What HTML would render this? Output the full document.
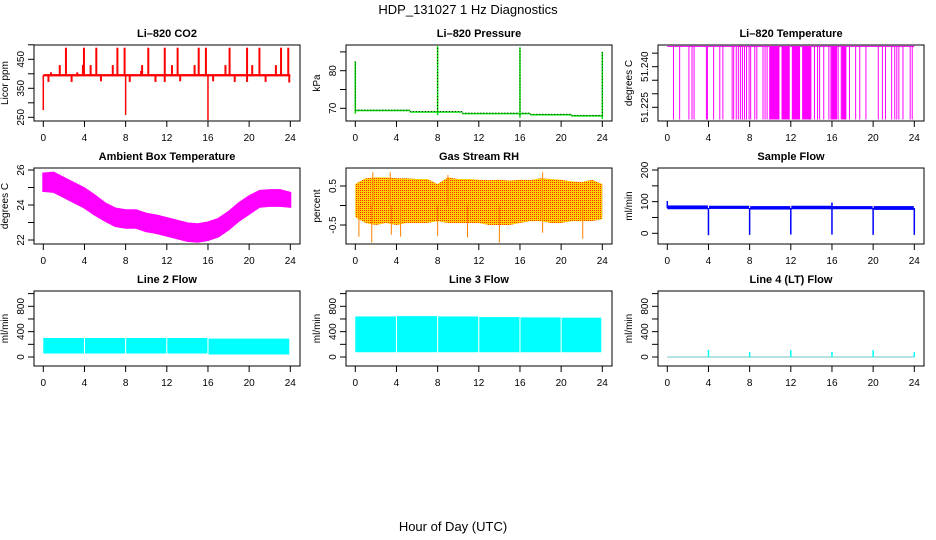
<!DOCTYPE html>
<html><head><meta charset="utf-8"><style>
html,body{margin:0;padding:0;background:#fff}
svg{display:block;font-family:"Liberation Sans",sans-serif}
.t{font-weight:bold;font-size:11px;text-anchor:middle}
.tk{font-size:10px;text-anchor:middle}
</style></head><body>
<svg id="c" width="936" height="540" viewBox="0 0 936 540">
<defs><pattern id="rhp" width="2" height="2" patternUnits="userSpaceOnUse"><rect width="2" height="2" fill="#ffd000"/><rect width="1" height="1" fill="#ff3000"/></pattern></defs>
<text x="468" y="14" font-size="13" text-anchor="middle">HDP_131027  1 Hz Diagnostics</text>
<text x="453" y="531" font-size="13" text-anchor="middle">Hour of Day (UTC)</text>
</svg>
<script>
// ---- data ----
var hourTicks=[0,4,8,12,16,20,24];
var co2Base=395;
var co2UpHours=[2.2,3.95,5.15,7.2,7.9,10.2,11.8,13.05,15.1,15.8,18.1,19.8,21.0,23.1,23.8];
var co2UpVals=[490,490,490,490,490,490,490,490,490,490,490,490,490,490,490];
var co2MidHours=[1.6,3.85,4.6,6.75,9.6,12.5,14.7,17.7,20.3,22.6,0.75,3.3,9.5];
var co2MidVals=[430,430,430,430,430,430,430,430,430,430,405,405,410];
var co2DownHours=[0.5,2.75,5.6,8.4,10.9,11.8,13.3,16.5,18.6,19.8,21.6,23.9];
var co2DownVals=[372,372,374,372,372,372,374,374,372,372,372,370];
var co2BigHours=[0,8,16];
var co2BigVals=[275,258,240];
var presSegStart=[0,5.3,10.4,17,21];
var presSegEnd=[5.3,10.4,17,21,24];
var presSegVals=[69.4,69.0,68.6,68.3,68.0];
var presSpikeHours=[0,8,16,24];
var presSpikeVals=[82.5,86.5,86.2,85];
var tempBarHours=[0.6,1.2,2.1,2.4,2.6,3.8,3.9,4.5,5.1,5.4,6.3,6.45,6.7,6.9,7.1,7.3,7.5,7.7,7.95,8.1,8.5,8.7,9.3,9.5,9.7,14.3,14.6,14.8,15.2,15.7,15.9,16.2,16.4,16.6,16.9,17.7,18.3,18.7,19.3,20.5,20.9,21.2,21.8,22.1,22.3,22.5,22.9,23.6,23.8];
var tempDenseStart=[9.9,11.1,12.1,13.1,15.95,16.95];
var tempDenseEnd=[10.9,11.9,12.9,14.0,16.5,17.4];
var tempTop=51.2475, tempBottom=51.2205;
var ambHours=[0,1,2,3,4,5,6,7,8,9,10,11,12,13,14,15,16,17,18,19,20,21,22,23,24];
var ambVals=[25.3,25.3,25.0,24.7,24.4,24.0,23.6,23.3,23.2,23.2,23.0,22.9,22.75,22.6,22.45,22.4,22.5,22.7,23.1,23.6,24.0,24.35,24.4,24.4,24.3];
var ambHalf=[0.5,0.55,0.55,0.55,0.55,0.55,0.5,0.5,0.5,0.5,0.5,0.5,0.5,0.5,0.5,0.5,0.5,0.5,0.5,0.5,0.5,0.45,0.45,0.45,0.4];
var rhHours=[0,1,2,3,4,5,6,7,8,9,10,11,12,13,14,15,16,17,18,19,20,21,22,23,24];
var rhTop=[0.55,0.7,0.72,0.72,0.7,0.7,0.68,0.68,0.55,0.72,0.68,0.68,0.66,0.65,0.66,0.64,0.66,0.65,0.7,0.68,0.66,0.62,0.6,0.66,0.55];
var rhBot=[-0.3,-0.45,-0.5,-0.45,-0.5,-0.45,-0.45,-0.45,-0.4,-0.45,-0.45,-0.45,-0.45,-0.5,-0.5,-0.5,-0.45,-0.4,-0.4,-0.45,-0.45,-0.4,-0.4,-0.4,-0.35];
var rhSpikeHours=[0.35,1.6,3.5,4.4,8.0,10.9,14.0,18.2,22.1,1.7,3.4,18.2,9.0];
var rhSpikeVals=[-0.8,-0.95,-0.75,-0.8,-0.78,-0.82,-0.95,-0.7,-0.85,0.85,0.85,0.85,0.78];
var flowSegStart=[0,4.05,8.05,12.05,16.05,20.05];
var flowSegEnd=[3.95,7.95,11.95,15.95,19.95,23.95];
var flowLow=[76,77,75,76,76,74];
var flowHigh=[88,87,86,87,86,86];
var flowDipHours=[4,8,12,16,20,24];
var flowDipVals=[-6,-5,-4,-4,-5,-5];
var line2Start=[0,4.05,8.05,12.05,16.05];
var line2End=[3.95,7.95,11.95,15.95,23.9];
var line2Low=[55,55,55,55,40];
var line2High=[300,300,300,300,290];
var line3Start=[0,4.05,8.05,12.05,16.05,20.05];
var line3End=[3.95,7.95,11.95,15.95,19.95,23.9];
var line3Low=[75,75,75,75,75,75];
var line3High=[640,645,640,630,625,620];
var line4SpikeHours=[4,8,12,16,20,24];
var line4SpikeVals=[110,80,110,80,110,80];

// ---- layout ----
var NS='http://www.w3.org/2000/svg';
var svg=document.getElementById('c');
var colL=[34,346,658], colR=[300,612,924], colX0=[43.3,355.3,667.3];
var rowT=[45,168,291], rowB=[121,244,366];
function el(tag,attrs,parent){var e=document.createElementNS(NS,tag);for(var k in attrs)e.setAttribute(k,attrs[k]);(parent||svg).appendChild(e);return e;}
function panel(ci,ri,name,title,ylab,yv1,py1,yv2,py2,yticks,ylabels){
  var g=el('g',{});
  
  
  var L=colL[ci],R=colR[ci],T=rowT[ri],B=rowB[ri],x0=colX0[ci],sx=(R-9.7-x0)/24;
  var P={g:g,L:L,R:R,T:T,B:B,x:function(h){return x0+h*sx;},y:function(v){return py1+(v-yv1)*(py2-py1)/(yv2-yv1);}};
  var plot=el('g',{},g);
  
  
  P.p=plot;
  var t=el('text',{x:(L+R)/2,y:T-8,'class':'t'},g);t.textContent=title;
  
  
  var yl=el('text',{transform:'translate('+(L-26)+','+((T+B)/2)+') rotate(-90)','font-size':'10','text-anchor':'middle'},g);yl.textContent=ylab;
  
  
  P.finish=function(){
    var bx=el('rect',{x:L,y:T,width:R-L,height:B-T,fill:'none',stroke:'#000','stroke-width':1},g);
    
    
    var xa=el('g',{},g);
    
    
    hourTicks.forEach(function(h){var xx=P.x(h);el('line',{x1:xx,x2:xx,y1:B,y2:B+6,stroke:'#000'},xa);
      var tx=el('text',{x:xx,y:B+20,'class':'tk'},xa);tx.textContent=h;});
    var ya=el('g',{},g);
    
    
    yticks.forEach(function(v){var yy=P.y(v);el('line',{x1:L-6,x2:L,y1:yy,y2:yy,stroke:'#000'},ya);});
    ylabels.forEach(function(v){var yy=P.y(v);var tx=el('text',{transform:'translate('+(L-10)+','+yy+') rotate(-90)','class':'tk'},ya);tx.textContent=v;});
  };
  return P;
}
function vline(P,h,v1,v2,c,w,nm){var l=el('line',{x1:P.x(h),x2:P.x(h),y1:P.y(v1),y2:P.y(v2),stroke:c,'stroke-width':w||1},P.p);return l;}
function rectH(P,h1,h2,v1,v2,fill,nm){var a=P.y(v1),b=P.y(v2);var r=el('rect',{x:P.x(h1),y:Math.min(a,b),width:P.x(h2)-P.x(h1),height:Math.abs(a-b),fill:fill},P.p);return r;}

// CO2
var P=panel(0,0,'co2','Li\u2013820 CO2','Licor ppm',250,117.3,450,59.3,[250,300,350,400,450,500],[250,350,450]);
rectH(P,0,24,co2Base-4,co2Base+4,'#ff0000','co2-baseline');
co2UpHours.forEach(function(h,i){vline(P,h,co2Base,co2UpVals[i],'#ff0000',2,'co2-spike');});
co2MidHours.forEach(function(h,i){vline(P,h,co2Base,co2MidVals[i],'#ff0000',2,'co2-spike');});
co2DownHours.forEach(function(h,i){vline(P,h,co2Base,co2DownVals[i],'#ff0000',2,'co2-spike');});
co2BigHours.forEach(function(h,i){vline(P,h,co2Base,co2BigVals[i],'#ff0000',1.5,'co2-drop');});
P.finish();

// Pressure
P=panel(1,0,'pressure','Li\u2013820 Pressure','kPa',70,108.3,80,70.7,[70,75,80,85],[70,80]);
presSegStart.forEach(function(s,i){var yy=P.y(presSegVals[i]);var l=el('line',{x1:P.x(s),x2:P.x(presSegEnd[i]),y1:yy,y2:yy,stroke:'#00e000','stroke-width':1.5},P.p);
  var d=el('line',{x1:P.x(s),x2:P.x(presSegEnd[i]),y1:yy-0.5,y2:yy-0.5,stroke:'#000','stroke-width':0.8,'stroke-dasharray':'1 2'},P.p);});
presSpikeHours.forEach(function(h,i){var base=presSegVals[Math.min(Math.floor(h/5.3),4)];vline(P,h,base-0.8,presSpikeVals[i],'#00e000',1.5,'pressure-spike');
  var d=vline(P,h,base,presSpikeVals[i],'#000',0.8,'pressure-spike-dots');d.setAttribute('stroke-dasharray','1 2');});
P.finish();

// LI temperature
P=panel(2,0,'li-temperature','Li\u2013820 Temperature','degrees C',51.225,107.3,51.240,66.7,[51.225,51.230,51.235,51.240,51.245],['51.225','51.240']);
(function(){var yy=P.y(tempTop);var l=el('line',{x1:P.x(0),x2:P.x(24),y1:yy,y2:yy,stroke:'#ff00ff'},P.p);})();
tempBarHours.forEach(function(h){vline(P,h,tempTop,tempBottom,'#ff00ff',1,'temperature-drop');});
tempDenseStart.forEach(function(s,i){rectH(P,s,tempDenseEnd[i],tempBottom,tempTop,'#ff00ff','temperature-dense-drops');});
P.finish();

// Ambient
P=panel(0,1,'ambient-temperature','Ambient Box Temperature','degrees C',26,170,22,240,[22,23,24,25,26],[22,24,26]);
(function(){var top=[],bot=[];ambHours.forEach(function(h,i){top.push(P.x(h)+','+P.y(ambVals[i]+ambHalf[i]));bot.unshift(P.x(h)+','+P.y(ambVals[i]-ambHalf[i]));});
var pg=el('polygon',{points:top.concat(bot).join(' '),fill:'#ff00ff',stroke:'#ff00ff','stroke-width':2},P.p);})();
P.finish();

// RH
P=panel(1,1,'gas-stream-rh','Gas Stream RH','percent',0.5,186,-0.5,225,[-0.5,0,0.5],['-0.5','0.5']);
(function(){var top=[],bot=[];rhHours.forEach(function(h,i){top.push(P.x(h)+','+P.y(rhTop[i]));bot.unshift(P.x(h)+','+P.y(rhBot[i]));});
var pg=el('polygon',{points:top.concat(bot).join(' '),fill:'url(#rhp)'},P.p);})();
rhSpikeHours.forEach(function(h,i){vline(P,h,0,rhSpikeVals[i],'#ff8000',1,'rh-spike');});
P.finish();

// Sample flow
P=panel(2,1,'sample-flow','Sample Flow','ml/min',200,170,0,233.3,[0,50,100,150,200],[0,100,200]);
flowSegStart.forEach(function(s,i){rectH(P,s,flowSegEnd[i],flowLow[i],flowHigh[i],'#0000ff','sample-flow-band');});
flowDipHours.forEach(function(h,i){vline(P,h,80,flowDipVals[i],'#0000ff',1.5,'sample-flow-dip');});
vline(P,0,80,102,'#0000ff',1.5,'sample-flow-spike');vline(P,16,80,97,'#0000ff',1.5,'sample-flow-spike');
P.finish();

// Line 2
P=panel(0,2,'line2-flow','Line 2 Flow','ml/min',0,357,800,306.3,[0,200,400,600,800,1000],[0,400,800]);
line2Start.forEach(function(s,i){rectH(P,s,line2End[i],line2Low[i],line2High[i],'#00ffff','line2-flow-band');});
P.finish();

// Line 3
P=panel(1,2,'line3-flow','Line 3 Flow','ml/min',0,357,800,306.3,[0,200,400,600,800,1000],[0,400,800]);
line3Start.forEach(function(s,i){rectH(P,s,line3End[i],line3Low[i],line3High[i],'#00ffff','line3-flow-band');});
P.finish();

// Line 4
P=panel(2,2,'line4-flow','Line 4 (LT) Flow','ml/min',0,357,800,306.3,[0,200,400,600,800,1000],[0,400,800]);
(function(){var yy=P.y(0);var l=el('line',{x1:P.x(0),x2:P.x(24),y1:yy,y2:yy,stroke:'#9fd8d8','stroke-width':1.5},P.p);})();
line4SpikeHours.forEach(function(h,i){vline(P,h,0,line4SpikeVals[i],'#00ffff',1.5,'line4-flow-spike');});
P.finish();
</script>
</body></html>
